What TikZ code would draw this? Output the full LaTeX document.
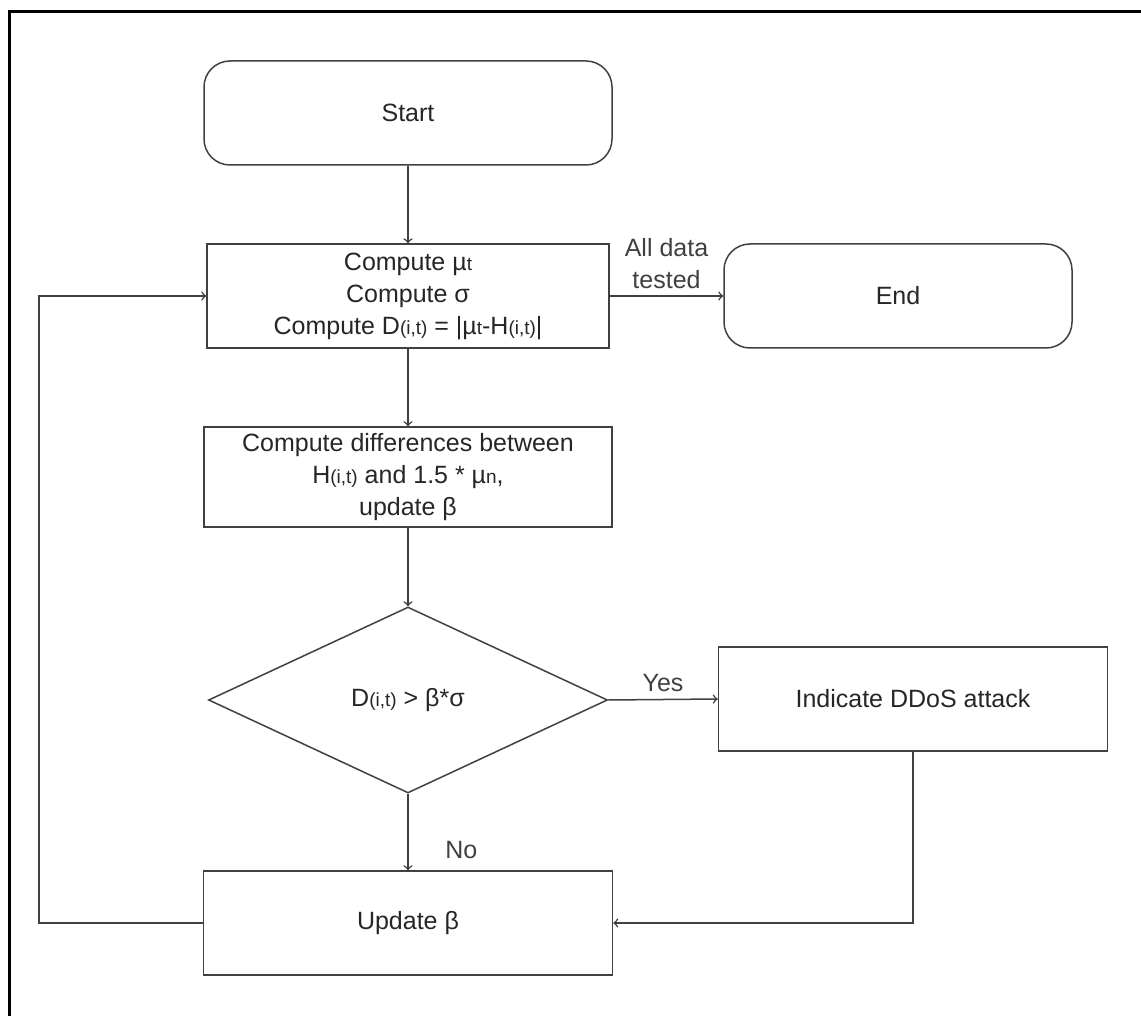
\documentclass[tikz,border=0pt]{standalone}
\usepackage{fontspec}
\setmainfont{Liberation Sans}
\usetikzlibrary{shapes.geometric}
\newcommand{\lo}[1]{{\fontsize{9.5}{10}\selectfont #1}}

\begin{document}
\begin{tikzpicture}[x=0.5pt, y=-0.5pt, line width=0.75pt,
    font=\fontsize{12.5}{16}\selectfont, text=black!85,
    box/.style={draw=black!75, align=center, inner sep=0pt},
    term/.style={box, rounded corners=13pt},
    test/.style={diamond, draw=black!75, inner sep=0pt, minimum width=199.5pt, minimum height=93pt}]
    \useasboundingbox (0,0) rectangle (1141,1016);
    \draw[line width=1.5pt, black] (9,1016) -- (9,12) -- (1141,12);

    \node[term, minimum width=204pt, minimum height=52pt] (start) at (408,113) {Start};
    \node[box, minimum width=201pt, minimum height=52pt] (comp) at (408,296)
        {Compute µ\lo{t}\\Compute σ\\Compute D\lo{(i,t)} = |µ\lo{t}-H\lo{(i,t)}|};
    \node[term, minimum width=174pt, minimum height=52pt] (endn) at (898,296) {End};
    \node[box, minimum width=204pt, minimum height=50pt] (diff) at (408,477)
        {Compute differences between\\H\lo{(i,t)} and 1.5 * µ\lo{n},\\update β};
    \node[test] (dec) at (408,700) {D\lo{(i,t)} > β*σ};
    \node[box, minimum width=194.5pt, minimum height=52pt] (ddos) at (913,699) {Indicate DDoS attack};
    \node[box, minimum width=204.5pt, minimum height=52pt] (upd) at (408,923) {Update β};
    \coordinate (back) at (39,923);

    \draw[->, black!75] (start) -- (comp);
    \draw[->, black!75] (comp.east) -- node[above, align=center] {All data\\tested} (endn.west);
    \draw[->, black!75] (comp) -- (diff);
    \draw[->, black!75] (diff) -- (dec);
    \draw[->, black!75] (dec.east) -- node[above] {Yes} (ddos.west);
    \draw[->, black!75] (dec.south) -- node[pos=0.74, right=15pt] {No} (upd.north);
    \draw[->, black!75] (ddos.south) |- (upd.east);
    \draw[->, black!75] (upd.west) -- (back) |- (comp.west);
\end{tikzpicture}
\end{document}
